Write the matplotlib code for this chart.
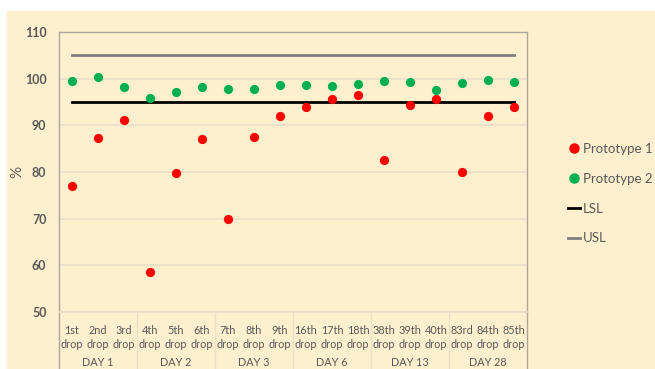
import matplotlib
matplotlib.use("Agg")
import matplotlib.pyplot as plt
from matplotlib.lines import Line2D
from matplotlib.patches import Rectangle

plt.rcParams["font.family"] = ["Lato", "DejaVu Sans"]

drops = ["1st", "2nd", "3rd", "4th", "5th", "6th", "7th", "8th", "9th",
         "16th", "17th", "18th", "38th", "39th", "40th", "83rd", "84th", "85th"]
days = ["DAY 1", "DAY 2", "DAY 3", "DAY 6", "DAY 13", "DAY 28"]

prototype_1 = [76.9, 87.2, 91.1, 58.6, 79.8, 87.1, 70.0, 87.6, 91.9,
               93.9, 95.7, 96.6, 82.5, 94.4, 95.7, 79.9, 92.1, 93.9]
prototype_2 = [99.6, 100.4, 98.2, 95.9, 97.2, 98.2, 97.8, 97.8, 98.6,
               98.6, 98.5, 98.8, 99.5, 99.2, 97.6, 99.0, 99.8, 99.3]
lsl = [95] * len(drops)
usl = [105] * len(drops)

cream = "#FEF0CE"
text_col = "#595959"
grid_col = "#EAE0C8"
border_col = "#ABA79E"

W, H = 655, 369
fig = plt.figure(figsize=(W / 100, H / 100), dpi=100)
fig.patch.set_facecolor("white")
fig.add_artist(Rectangle((7 / W, 0), 1 - 7 / W, (H - 11) / H,
                         transform=fig.transFigure, color=cream, zorder=0))

left, right, top, bottom = 59, 527, 32, 312
ax = fig.add_axes([left / W, (H - bottom) / H, (right - left) / W, (bottom - top) / H])
ax.set_facecolor(cream)

x = list(range(1, len(drops) + 1))
ax.plot(x, usl, color="#7F7F7F", lw=2, zorder=2, label="USL")
ax.plot(x, lsl, color="black", lw=2, zorder=2, label="LSL")
ax.scatter(x, prototype_1, s=44, color="#FF0000", zorder=3, linewidths=0)
ax.scatter(x, prototype_2, s=44, color="#00B050", zorder=3, linewidths=0)

ax.set_xlim(0.5, len(drops) + 0.5)
ax.set_ylim(50, 110)
ax.set_yticks(range(50, 111, 10))
ax.grid(axis="y", color=grid_col, lw=1.2, zorder=1)
ax.set_axisbelow(True)
ax.tick_params(axis="y", length=0, pad=9, labelsize=9, labelcolor=text_col)
for lab in ax.get_yticklabels():
    lab.set_fontweight("bold")

ax.set_xticks(x)
ax.set_xticklabels([d + "\ndrop" for d in drops], fontsize=7.8, color=text_col,
                   linespacing=1.35)
ax.tick_params(axis="x", length=0, pad=9)

for side in ["left", "top", "right"]:
    ax.spines[side].set_color(border_col)
    ax.spines[side].set_linewidth(1.0)
ax.spines["bottom"].set_color(grid_col)
ax.spines["bottom"].set_linewidth(1.2)

# group separators and day labels under the category axis
drop_y = -(H - bottom) / (bottom - top)
trans = ax.get_xaxis_transform()
for k in range(len(days) + 1):
    xs = 0.5 + 3 * k
    col = border_col if k in (0, len(days)) else grid_col
    ax.plot([xs, xs], [0, drop_y], color=col, lw=1.0, transform=trans, clip_on=False)
for k, day in enumerate(days):
    ax.text(2 + 3 * k, -50 / (bottom - top), day, transform=trans, ha="center",
            va="center", fontsize=7.8, color=text_col)

fig.text(17 / W, 1 - 172 / H, "%", rotation=90, ha="center", va="center",
         fontsize=11, color=text_col)

handles = [
    Line2D([], [], marker="o", ls="", color="#FF0000", ms=6.5),
    Line2D([], [], marker="o", ls="", color="#00B050", ms=6.5),
    Line2D([], [], color="black", lw=2),
    Line2D([], [], color="#7F7F7F", lw=2),
]
fig.legend(handles, ["Prototype 1", "Prototype 2", "LSL", "USL"],
           loc="upper left", bbox_to_anchor=(568 / W, 1 - 143 / H),
           frameon=False, fontsize=9.5, labelcolor=text_col,
           handlelength=0.9, handletextpad=0.2, labelspacing=1.35,
           borderpad=0, borderaxespad=0)

fig.savefig("out.png", dpi=100)
